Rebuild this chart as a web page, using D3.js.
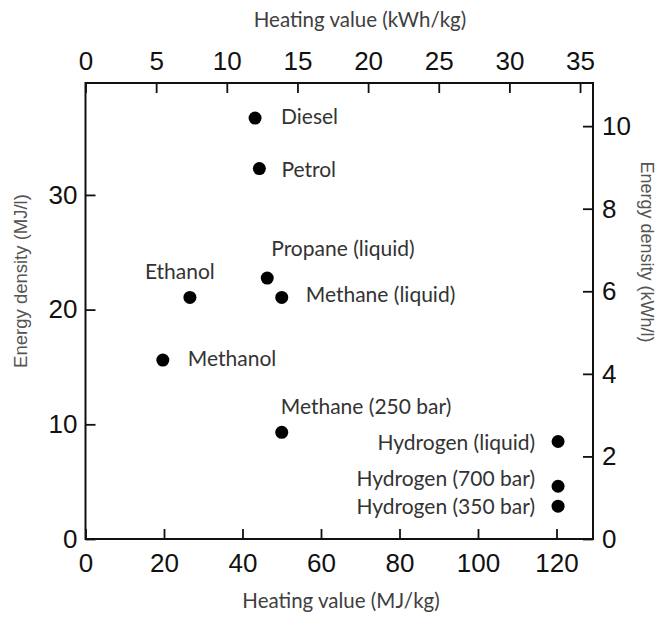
<!DOCTYPE html>
<html>
<head>
<meta charset="utf-8">
<script src="https://cdn.jsdelivr.net/npm/d3@7"></script>
<style>
  html, body { margin: 0; padding: 0; background: #fff; }
  svg { display: block; }
</style>
</head>
<body>
<div id="chart"></div>
<script>
// fuels, heating value (MJ/kg) and energy density (MJ/l)
const fuels = ["Diesel", "Petrol", "Propane (liquid)", "Methane (liquid)", "Ethanol",
    "Methanol", "Methane (250 bar)", "Hydrogen (liquid)", "Hydrogen (700 bar)", "Hydrogen (350 bar)"];
const heatingValue = [43.2, 44.3, 46.3, 50.0, 26.6, 19.7, 50.0, 120.4, 120.4, 120.4];
const energyDensity = [36.7, 32.3, 22.75, 21.06, 21.06, 15.6, 9.3, 8.5, 4.6, 2.86];

const bottomTicks = [0, 20, 40, 60, 80, 100, 120];
const topTicks = [0, 5, 10, 15, 20, 25, 30, 35];       // kWh/kg
const leftTicks = [0, 10, 20, 30];
const rightTicks = [0, 2, 4, 6, 8, 10];                 // kWh/l

const MJ_PER_KWH = 3.6;

// where each label sits relative to its dot
const labelPlace = [
    { dx: 26, dy: 6, anchor: "start" },
    { dx: 22, dy: 8, anchor: "start" },
    { dx: 4, dy: -22, anchor: "start" },
    { dx: 24, dy: 5, anchor: "start" },
    { dx: -45, dy: -18, anchor: "start" },
    { dx: 25, dy: 6, anchor: "start" },
    { dx: -1, dy: -18, anchor: "start" },
    { dx: -23, dy: 8, anchor: "end" },
    { dx: -23, dy: 0, anchor: "end" },
    { dx: -23, dy: 8, anchor: "end" }
];

const W = 661, H = 617;
const margin = { top: 83, right: 68, bottom: 78, left: 85.5 };
const width = W - margin.left - margin.right;
const height = H - margin.top - margin.bottom;

const svg = d3.select("#chart").append("svg")
    .attr("width", W)
    .attr("height", H);

svg.append("rect").attr("width", W).attr("height", H).attr("fill", "#fff");

const g = svg.append("g")
    .attr("transform", `translate(${margin.left},${margin.top})`);

// Scales (secondary axes are unit conversions of the primary ones)
const x = d3.scaleLinear().domain([0, 129.3]).range([0, width]);
const y = d3.scaleLinear().domain([0, 39.76]).range([height, 0]);
const xTop = d3.scaleLinear().domain([0, 129.3 / MJ_PER_KWH]).range([0, width]);
const yRight = d3.scaleLinear().domain([0, 39.76 / MJ_PER_KWH]).range([height, 0]);

const tickFont = "'Liberation Sans', Arial, sans-serif";

function styleAxis(sel) {
    sel.select(".domain").remove();
    sel.selectAll(".tick line").attr("stroke", "#111").attr("stroke-width", 1.8);
    sel.selectAll(".tick text")
        .attr("fill", "#111")
        .style("font-family", tickFont)
        .style("font-size", "26px");
}

g.append("g")
    .attr("transform", `translate(0,${height})`)
    .call(d3.axisBottom(x).tickValues(bottomTicks).tickSize(-10).tickPadding(15))
    .call(styleAxis);

g.append("g")
    .call(d3.axisTop(xTop).tickValues(topTicks).tickSize(-10).tickPadding(13))
    .call(styleAxis);

g.append("g")
    .call(d3.axisLeft(y).tickValues(leftTicks).tickSize(-10).tickPadding(8))
    .call(styleAxis);

g.append("g")
    .attr("transform", `translate(${width},0)`)
    .call(d3.axisRight(yRight).tickValues(rightTicks).tickSize(-10).tickPadding(9))
    .call(styleAxis);

// frame
g.append("rect")
    .attr("width", width)
    .attr("height", height)
    .attr("fill", "none")
    .attr("stroke", "#111")
    .attr("stroke-width", 2);

// axis titles
const titleFont = "Lato, 'Open Sans', sans-serif";
svg.append("text")
    .attr("x", 360).attr("y", 27)
    .attr("text-anchor", "middle")
    .style("font-family", titleFont).style("font-size", "20.5px")
    .attr("fill", "#404040")
    .text("Heating value (kWh/kg)");

svg.append("text")
    .attr("x", 341).attr("y", 608)
    .attr("text-anchor", "middle")
    .style("font-family", titleFont).style("font-size", "20.5px")
    .attr("fill", "#404040")
    .text("Heating value (MJ/kg)");

svg.append("text")
    .attr("transform", "translate(27,281) rotate(-90)")
    .attr("text-anchor", "middle")
    .style("font-family", tickFont).style("font-size", "18.5px")
    .attr("fill", "#555")
    .text("Energy density (MJ/l)");

svg.append("text")
    .attr("transform", "translate(641,252) rotate(90)")
    .attr("text-anchor", "middle")
    .style("font-family", tickFont).style("font-size", "18px")
    .attr("fill", "#555")
    .text("Energy density (kWh/l)");

// points
const pts = fuels.map((name, i) => ({
    name: name,
    hv: heatingValue[i],
    ed: energyDensity[i],
    place: labelPlace[i]
}));

g.append("g")
    .selectAll("circle")
    .data(pts)
    .enter()
    .append("circle")
    .attr("cx", d => x(d.hv))
    .attr("cy", d => y(d.ed))
    .attr("r", 6.5)
    .attr("fill", "#000");

g.append("g")
    .selectAll("text")
    .data(pts)
    .enter()
    .append("text")
    .attr("x", d => x(d.hv) + d.place.dx)
    .attr("y", d => y(d.ed) + d.place.dy)
    .attr("text-anchor", d => d.place.anchor)
    .style("font-family", titleFont)
    .style("font-size", "21px")
    .attr("fill", "#333")
    .text(d => d.name);
</script>
</body>
</html>
